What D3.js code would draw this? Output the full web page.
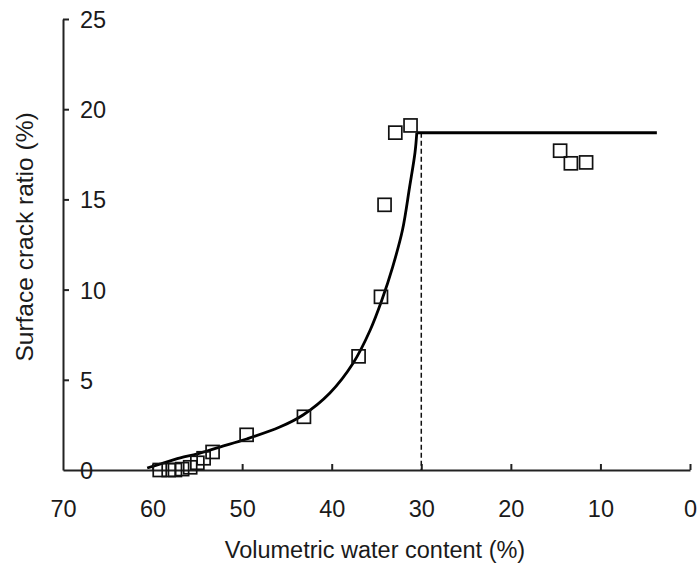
<html>
<head>
	<meta charset='utf-8' />
	<title>Surface crack ratio</title>
	<script src="https://cdn.jsdelivr.net/npm/d3@7"></script>
	<style>
	body { margin: 0; background: #fff; }
	text { font-family: "Liberation Sans", Arial, sans-serif; fill: #1a1a1a; }
	</style>
</head>
<body>
<script>

	var W = 698, H = 570;

	// measured points (water content %, crack ratio %)
	var obsWater = [59.2, 58.2, 57.5, 56.7, 55.8, 55.0, 54.3, 53.3, 49.5, 43.1, 37.0, 34.5, 34.1, 32.9, 31.2, 14.5, 13.3, 11.6];
	var obsCrack = [0.0, 0.0, 0.0, 0.05, 0.15, 0.4, 0.65, 1.0, 1.95, 2.95, 6.3, 9.6, 14.7, 18.7, 19.1, 17.7, 17.0, 17.05];

	// fitted curve
	var fitWater = [60.6, 59.2, 56.9, 55.0, 52.5, 49.5, 45.8, 43.2, 40.2, 37.6, 35.7, 34.4, 33.2, 32.1, 31.3, 30.7, 30.5];
	var fitCrack = [0.11, 0.33, 0.67, 0.89, 1.27, 1.72, 2.38, 3.05, 4.27, 5.93, 7.76, 9.42, 11.25, 13.3, 15.7, 17.6, 18.7];

	// plateau and threshold
	var plateauWater = [30.5, 3.7];
	var plateauCrack = 18.7;
	var thresholdWater = 30;

	var xTicks = [70, 60, 50, 40, 30, 20, 10, 0];
	var yTicks = [0, 5, 10, 15, 20, 25];

	var svg = d3.select("body").append("svg")
		.attr("width", W)
		.attr("height", H)
		.attr("xmlns", "http://www.w3.org/2000/svg");

	var x = d3.scaleLinear().domain([70, 0]).range([63, 690]);
	var y = d3.scaleLinear().domain([0, 25]).range([470, 19]);

	// x axis, ticks point inward
	var xAxis = svg.append("g")
		.attr("transform", "translate(0," + y(0) + ")")
		.call(d3.axisBottom(x).tickValues(xTicks).tickSize(-6).tickSizeOuter(0).tickFormat(d3.format("d")));
	xAxis.select(".domain").attr("stroke", "#222").attr("stroke-width", 2);
	xAxis.selectAll(".tick line").attr("stroke", "#222").attr("stroke-width", 2);
	xAxis.selectAll(".tick").filter(d => d == 70).select("line").remove();
	xAxis.selectAll(".tick text")
		.attr("y", 47)
		.attr("dy", null)
		.attr("font-size", "23.5px")
		.attr("font-family", null)
		.attr("fill", "#1a1a1a");

	// y axis, ticks point inward and labels sit inside
	var yAxis = svg.append("g")
		.attr("transform", "translate(" + x(70) + ",0)")
		.call(d3.axisLeft(y).tickValues(yTicks).tickSize(-6).tickSizeOuter(0));
	yAxis.select(".domain").attr("stroke", "#222").attr("stroke-width", 2);
	yAxis.selectAll(".tick line").attr("stroke", "#222").attr("stroke-width", 2);
	yAxis.selectAll(".tick").filter(d => d == 0).select("line").remove();
	yAxis.selectAll(".tick text")
		.attr("x", 17)
		.attr("text-anchor", "start")
		.attr("dy", "0.36em")
		.attr("font-size", "23.5px")
		.attr("font-family", null)
		.attr("fill", "#1a1a1a");

	// threshold line
	svg.append("line")
		.attr("x1", x(thresholdWater))
		.attr("x2", x(thresholdWater))
		.attr("y1", y(plateauCrack))
		.attr("y2", y(0))
		.attr("stroke", "#111")
		.attr("stroke-width", 1.5)
		.attr("stroke-dasharray", "5 3");

	// fitted curve
	var fit = fitWater.map((w, i) => ({w: w, c: fitCrack[i]}));
	var line = d3.line()
		.x(d => x(d.w))
		.y(d => y(d.c))
		.curve(d3.curveCatmullRom.alpha(0.5));

	svg.append("path")
		.datum(fit)
		.attr("fill", "none")
		.attr("stroke", "#000")
		.attr("stroke-width", 2.8)
		.attr("d", line);

	// plateau
	svg.append("line")
		.attr("x1", x(plateauWater[0]))
		.attr("x2", x(plateauWater[1]))
		.attr("y1", y(plateauCrack))
		.attr("y2", y(plateauCrack))
		.attr("stroke", "#000")
		.attr("stroke-width", 3);

	// observations
	var obs = obsWater.map((w, i) => ({w: w, c: obsCrack[i]}));
	var s = 13;
	svg.selectAll("rect.obs")
		.data(obs)
		.enter().append("rect")
		.attr("class", "obs")
		.attr("x", d => x(d.w) - s / 2)
		.attr("y", d => y(d.c) - s / 2)
		.attr("width", s)
		.attr("height", s)
		.attr("fill", "none")
		.attr("stroke", "#111")
		.attr("stroke-width", 1.7);

	// axis titles
	svg.append("text")
		.attr("x", 375)
		.attr("y", 558)
		.attr("text-anchor", "middle")
		.attr("font-size", "23.5px")
		.text("Volumetric water content (%)");

	svg.append("text")
		.attr("transform", "translate(33,237) rotate(-90)")
		.attr("text-anchor", "middle")
		.attr("font-size", "24.5px")
		.text("Surface crack ratio (%)");

</script>
</body>
</html>
